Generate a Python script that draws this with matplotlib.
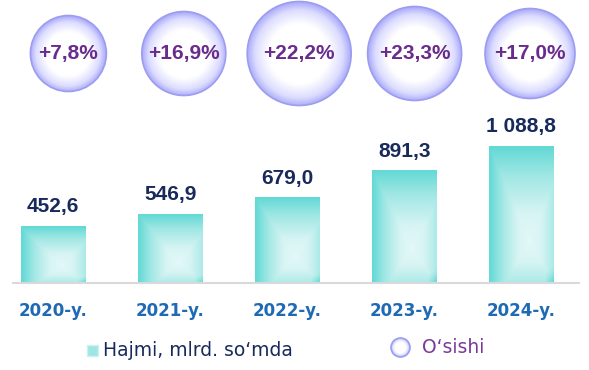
import numpy as np
import matplotlib
matplotlib.use("Agg")
import matplotlib.pyplot as plt
from matplotlib.patches import Circle, Rectangle
from matplotlib.colors import LinearSegmentedColormap

# data
years = ["2020-y.", "2021-y.", "2022-y.", "2023-y.", "2024-y."]
volume = [452.6, 546.9, 679.0, 891.3, 1088.8]
volume_labels = ["452,6", "546,9", "679,0", "891,3", "1 088,8"]
growth_labels = ["+7,8%", "+16,9%", "+22,2%", "+23,3%", "+17,0%"]

# bubble radii in pixels (style only)
bubble_r = [38, 42, 52, 47, 45]

W, H = 589, 370
fig = plt.figure(figsize=(W / 100, H / 100), dpi=100)

teal = LinearSegmentedColormap.from_list(
    "teal", [(0, "#e4f8f8"), (0.3, "#d6f4f3"), (0.7, "#9fe7e4"), (1, "#62d9d5")])
lav = LinearSegmentedColormap.from_list(
    "lav", [(0, "#ffffff"), (0.58, "#ffffff"), (0.85, "#dcdcff"), (1, "#acacfb")])

# rectangular "path" gradient for the bars, lighter toward the lower right
gx, gy = np.meshgrid(np.linspace(0, 1, 64), np.linspace(1, 0, 128))
cx, cy = 0.62, 0.3
left = np.clip((cx - gx) / cx, 0, None)
right = np.clip((gx - cx) / (1 - cx), 0, None)
top = np.clip((gy - cy) / (1 - cy), 0, None)
bottom = np.clip((cy - gy) / cy, 0, None)
corner = np.clip(right + bottom - 1, 0, None)
grad = np.maximum.reduce([left, top, 0.6 * right, 0.6 * bottom, corner])

# radial gradient for the bubbles
rx, ry = np.meshgrid(np.linspace(-1, 1, 200), np.linspace(-1, 1, 200))
radial = np.clip(np.sqrt(rx ** 2 + ry ** 2), 0, 1)

# ---- bars ----
step, x0, base, ppu = 117.1, 53, 283, 0.1258
ax = fig.add_axes([0, (H - base) / H, 1, base / H])
ax.axis("off")
bars = ax.bar(range(len(volume)), volume, width=0.547, color="none", lw=0)
for b in bars:
    ax.imshow(grad, cmap=teal, vmin=0, vmax=1, aspect="auto", interpolation="bilinear",
              extent=(b.get_x(), b.get_x() + b.get_width(), 0, b.get_height()))
ax.set_xlim(-x0 / step, (W - x0) / step)
ax.set_ylim(0, base / ppu)
ax.axhline(0, xmin=13 / W, xmax=579 / W, color="#d9d9d9", lw=1.5, clip_on=False)

for i, (v, lbl) in enumerate(zip(volume, volume_labels)):
    ax.annotate(lbl, (i, v), xytext=(0, 14), textcoords="offset pixels",
                ha="center", va="baseline", fontsize=15, fontweight="bold",
                color="#182a5b", family="Liberation Sans", annotation_clip=False)
for i, y in enumerate(years):
    ax.annotate(y, (i, 0), xytext=(0, -33), textcoords="offset pixels",
                ha="center", va="baseline", fontsize=12, fontweight="bold",
                color="#1f6ab5", annotation_clip=False)

# ---- growth bubbles ----
bs, b0 = 115.4, 68.4
bx = fig.add_axes([0, 0, 1, 1])
bx.axis("off")
ycen = 53.5 / bs
for i, (r, lbl) in enumerate(zip(bubble_r, growth_labels)):
    rr = r / bs
    im = bx.imshow(radial, cmap=lav, vmin=0, vmax=1, aspect="auto",
                   interpolation="bilinear",
                   extent=(i - rr, i + rr, ycen + rr, ycen - rr))
    im.set_clip_path(Circle((i, ycen), rr, transform=bx.transData))
    bx.add_patch(Circle((i, ycen), rr, fc="none", ec="#9d9df0", lw=1.2))
    bx.text(i, ycen, lbl, ha="center", va="center", fontsize=15,
            fontweight="bold", color="#6a2c8c", family="Liberation Sans")
bx.set_xlim(-b0 / bs, (W - b0) / bs)
bx.set_ylim(H / bs, 0)

# ---- legend ----
lay = fig.add_axes([0, 0, 1, 1])
lay.axis("off")
lay.add_patch(Rectangle((87, 345), 11, 11, fc="#9fe6e3", ec="#cdf2f1", lw=1))
lay.text(103, 356.5, "Hajmi, mlrd. so\u2018mda", ha="left", va="baseline",
         fontsize=13.5, color="#182a5b")
im = lay.imshow(radial, cmap=lav, vmin=0, vmax=1, aspect="auto",
                extent=(391, 410, 357, 338))
im.set_clip_path(Circle((400.5, 347.5), 9.5, transform=lay.transData))
lay.add_patch(Circle((400.5, 347.5), 9.5, fc="none", ec="#9d9df0", lw=1.2))
lay.text(422, 353, "O\u2018sishi", ha="left", va="baseline",
         fontsize=13.5, color="#7a3a9a")
lay.set_xlim(0, W)
lay.set_ylim(H, 0)

fig.savefig("out.png", dpi=100)
